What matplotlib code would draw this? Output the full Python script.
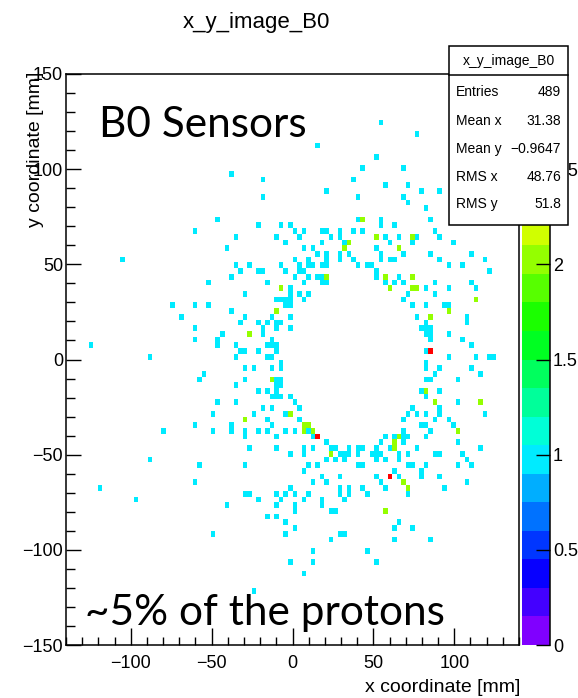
import numpy as np
import matplotlib
matplotlib.use("Agg")
import matplotlib.pyplot as plt
from matplotlib.colors import ListedColormap, BoundaryNorm, hsv_to_rgb
from matplotlib.patches import Rectangle
from matplotlib.ticker import MultipleLocator, FuncFormatter

# filled bins of the B0 hit map: bin centre x, y [mm] and bin content
cell_x = [
    55, 77, 15, 52, 43, 69, -38, -18, 38, 57, 71,
    21, 80, 91, -18, 41, 69, 71, 83,
    -46, 41, 43, 55, 85,
    -21, -7, -1, 55, 63,
    -60, 1, 7, 18, 21, 29, 38, 43, 88,
    -35, -10, 4, 24, 29, 52, 57, 66, 74, 77, 91,
    -4, 18, 32, 35, 60, 74, 99,
    -41, 7, 13, 32, 52, 66,
    15, 21, 29, 35, 55, 69, 85, 111,
    -105, 1, 10, 21, 29, 38, 55, 60, 63, 91, 119,
    -35, -27, -7, 4, 10, 13, 18, 21, 41, 46, 49, 97, 105,
    -32, -21, -18, -4, 4, 7, 52, 122,
    -38, 1, 10, 15, 18, 21, 52, 57, 66, 74,
    -52, -15, 7, 18, 21, 57, 63, 69, 88, 111,
    -7, -1, 60, 74, 77, 83, 97, 113,
    -29, -1, 4, 10, 71, 88,
    -10, -7, -4, -1, 7, 69, 113,
    -74, -60, -52, -4, -1, 74, 83, 94, 97,
    -38, -10, 97,
    -69, -29, -13, -1, 77, 85, 108,
    -32, -21, -15, -10, -7, 83, 108,
    -60, -18, -10, -1, 80, 83, 85,
    -43, -27, -18, 83, 85, 97,
    -60, -46, -13, 85, 105,
    -125, -46, -35, -15, -13, -10, 111,
    -32, -29, -21, -10, 83, 85,
    -88, -35, -15, -13, 97, 113, 122, 125,
    -7, 83,
    -29, -24, -13, -7, 83, 91, 111,
    -55, 88, 116,
    -57, -29, -13, -10, -7, 83, 85, 102,
    -35, -10, -7,
    -21, -15, -10, 80, 83, 91,
    -13, -10, -7, -1, 83,
    -46, -35, 1, 88, 102, 116,
    -18, -13, 4, 74, 91,
    -49, -24, -4, -1, 71, 77, 83, 91, 119,
    -29, -15, 4, 69, 88, 97,
    -60, -38, -13, 7, 10, 80, 83, 99,
    -80, -49, -38, -29, -21, -15, -4, 1, 7, 10, 13, 69, 85, 102,
    -29, -10, 13, 15, 57, 63, 66, 69, 71, 83,
    21, 55, 63, 69, 102,
    -27, -10, 7, 13, 24, 27, 35, 41, 43, 52, 60, 63, 77, 116,
    -1, 7, 24, 29, 32, 35, 41, 49, 52, 55, 66, 71, 88, 91, 105,
    -88, 21, 27, 32, 52, 57, 66, 108,
    -57, -29, 10, 15, 41, 43, 71, 74, 83, 102, 111,
    7, 63, 80,
    18, 29, 52, 60, 66, 80, 91,
    -60, 13, 21, 55, 69, 108,
    -119, -1, 29, 35, 43, 57, 71, 94,
    -29, -27, -10, -4, 1, 10, 29, 35, 46, 71,
    -97, -21, -7, 7, 18, 32,
    -41, -10, 1, 18,
    1, 24, 27, 57,
    -15, -10,
    -4, 66,
    1, 63, 74,
    -49, -4, 29, 32,
    24, 63, 85,
    13, 46,
    -1, 13, 52,
    7,
    -24,
]
cell_y = [
    125, 119, 113, 107, 101, 101, 98, 95, 95, 92, 92,
    89, 89, 89, 86, 86, 86, 83, 80,
    74, 74, 74, 74, 74,
    71, 71, 71, 71, 71,
    68, 68, 68, 68, 68, 68, 68, 68, 68,
    65, 65, 65, 65, 65, 65, 65, 65, 65, 65, 65,
    62, 62, 62, 62, 62, 62, 62,
    59, 59, 59, 59, 59, 59,
    56, 56, 56, 56, 56, 56, 56, 56,
    53, 53, 53, 53, 53, 53, 53, 53, 53, 53, 53,
    50, 50, 50, 50, 50, 50, 50, 50, 50, 50, 50, 50, 50,
    47, 47, 47, 47, 47, 47, 47, 47,
    44, 44, 44, 44, 44, 44, 44, 44, 44, 44,
    41, 41, 41, 41, 41, 41, 41, 41, 41, 41,
    38, 38, 38, 38, 38, 38, 38, 38,
    35, 35, 35, 35, 35, 35,
    32, 32, 32, 32, 32, 32, 32,
    29, 29, 29, 29, 29, 29, 29, 29, 29,
    26, 26, 26,
    23, 23, 23, 23, 23, 23, 23,
    20, 20, 20, 20, 20, 20, 20,
    17, 17, 17, 17, 17, 17, 17,
    14, 14, 14, 14, 14, 14,
    11, 11, 11, 11, 11,
    8, 8, 8, 8, 8, 8, 8,
    5, 5, 5, 5, 5, 5,
    2, 2, 2, 2, 2, 2, 2, 2,
    -1, -1,
    -4, -4, -4, -4, -4, -4, -4,
    -7, -7, -7,
    -10, -10, -10, -10, -10, -10, -10, -10,
    -13, -13, -13,
    -16, -16, -16, -16, -16, -16,
    -19, -19, -19, -19, -19,
    -22, -22, -22, -22, -22, -22,
    -25, -25, -25, -25, -25,
    -28, -28, -28, -28, -28, -28, -28, -28, -28,
    -31, -31, -31, -31, -31, -31,
    -34, -34, -34, -34, -34, -34, -34, -34,
    -37, -37, -37, -37, -37, -37, -37, -37, -37, -37, -37, -37, -37, -37,
    -40, -40, -40, -40, -40, -40, -40, -40, -40, -40,
    -43, -43, -43, -43, -43,
    -46, -46, -46, -46, -46, -46, -46, -46, -46, -46, -46, -46, -46, -46,
    -49, -49, -49, -49, -49, -49, -49, -49, -49, -49, -49, -49, -49, -49, -49,
    -52, -52, -52, -52, -52, -52, -52, -52,
    -55, -55, -55, -55, -55, -55, -55, -55, -55, -55, -55,
    -58, -58, -58,
    -61, -61, -61, -61, -61, -61, -61,
    -64, -64, -64, -64, -64, -64,
    -67, -67, -67, -67, -67, -67, -67, -67,
    -70, -70, -70, -70, -70, -70, -70, -70, -70, -70,
    -73, -73, -73, -73, -73, -73,
    -76, -76, -76, -76,
    -79, -79, -79, -79,
    -82, -82,
    -85, -85,
    -88, -88, -88,
    -91, -91, -91, -91,
    -94, -94, -94,
    -100, -100,
    -106, -106, -106,
    -112,
    -121,
]
cell_n = [
    1, 1, 1, 1, 1, 1, 1, 1, 1, 1, 1,
    1, 1, 1, 1, 1, 1, 1, 1,
    1, 1, 2, 1, 1,
    1, 1, 1, 1, 1,
    1, 1, 1, 1, 1, 1, 1, 1, 1,
    1, 1, 1, 1, 1, 2, 1, 1, 2, 1, 1,
    1, 1, 1, 2, 1, 1, 1,
    1, 1, 1, 2, 1, 2,
    1, 1, 1, 1, 1, 1, 1, 1,
    1, 1, 1, 1, 1, 1, 1, 1, 1, 1, 1,
    1, 1, 1, 1, 1, 1, 1, 1, 1, 1, 1, 1, 1,
    1, 1, 1, 1, 1, 1, 1, 1,
    1, 1, 1, 1, 1, 2, 1, 2, 1, 2,
    1, 1, 1, 1, 1, 1, 1, 1, 1, 1,
    2, 1, 2, 2, 2, 1, 1, 1,
    1, 1, 1, 1, 1, 1,
    1, 1, 1, 1, 1, 1, 2,
    1, 1, 1, 1, 1, 1, 1, 1, 1,
    1, 2, 2,
    1, 1, 1, 1, 1, 2, 1,
    1, 1, 1, 1, 1, 1, 1,
    1, 1, 1, 1, 1, 1, 1,
    1, 2, 1, 1, 1, 1,
    1, 1, 1, 1, 1,
    1, 1, 1, 1, 1, 1, 1,
    1, 1, 1, 1, 1, 3,
    1, 1, 1, 1, 1, 1, 1, 1,
    1, 1,
    1, 1, 1, 1, 1, 1, 1,
    1, 1, 1,
    1, 1, 2, 1, 1, 1, 1, 1,
    1, 1, 1,
    1, 1, 1, 1, 2, 1,
    1, 1, 1, 1, 1,
    1, 1, 1, 2, 1, 2,
    1, 1, 1, 1, 1,
    1, 1, 1, 2, 1, 1, 1, 1, 1,
    2, 1, 1, 1, 1, 1,
    1, 1, 1, 2, 2, 1, 1, 1,
    1, 1, 1, 1, 1, 1, 1, 1, 2, 1, 2, 1, 1, 2,
    1, 1, 1, 3, 1, 1, 2, 1, 1, 1,
    1, 1, 2, 1, 1,
    1, 1, 1, 1, 1, 1, 1, 1, 1, 1, 1, 2, 1, 1,
    1, 1, 2, 1, 1, 1, 1, 1, 1, 1, 1, 1, 1, 1, 1,
    1, 1, 1, 1, 1, 1, 1, 1,
    1, 1, 1, 1, 1, 1, 1, 1, 1, 1, 1,
    1, 1, 1,
    1, 1, 1, 3, 1, 1, 1,
    1, 1, 1, 1, 2, 1,
    1, 1, 1, 1, 1, 1, 2, 1,
    1, 1, 1, 1, 1, 1, 1, 1, 1, 1,
    1, 1, 1, 1, 1, 1,
    1, 1, 1, 1,
    1, 1, 1, 2,
    1, 1,
    1, 1,
    1, 1, 1,
    1, 1, 1, 1,
    1, 1, 1,
    1, 1,
    1, 1, 1,
    1,
    1,
]

stat_labels = ["Entries", "Mean x", "Mean y", "RMS x", "RMS y"]
stat_values = ["489", "31.38", "\u22120.9647", "48.76", "51.8"]

# 100 x 100 bins, like the TH2 booking
xedges = np.linspace(-140, 140, 101)
yedges = np.linspace(-150, 150, 101)
H, _, _ = np.histogram2d(cell_x, cell_y, bins=[xedges, yedges], weights=cell_n)
H = np.ma.masked_equal(H.T, 0)

# ROOT-style rainbow palette, 20 contour levels between 0 and 3
nlev = 20
hues = np.linspace(270, 0, nlev) / 360.0
pal = ListedColormap([hsv_to_rgb((h, 1, 1)) for h in hues])
levels = np.linspace(0, 3, nlev + 1)
norm = BoundaryNorm(levels, nlev)

W, Hpx = 578, 698
fig = plt.figure(figsize=(W / 100, Hpx / 100), dpi=100)
root_font = "Liberation Sans"
plt.rcParams["font.family"] = root_font

ax = fig.add_axes([66 / W, 1 - 645 / Hpx, (519 - 66) / W, (645 - 74) / Hpx])
cax = fig.add_axes([522 / W, 1 - 645 / Hpx, 28 / W, (645 - 74) / Hpx])

mesh = ax.pcolormesh(xedges, yedges, H, cmap=pal, norm=norm,
                     edgecolors="none", antialiased=False)
ax.set_xlim(-140, 140)
ax.set_ylim(-150, 150)

ax.xaxis.set_major_locator(MultipleLocator(50))
ax.xaxis.set_minor_locator(MultipleLocator(10))
ax.yaxis.set_major_locator(MultipleLocator(50))
ax.yaxis.set_minor_locator(MultipleLocator(10))
ax.tick_params(which="both", direction="in", labelsize=13, width=1.0)
ax.tick_params(axis="x", which="major", length=12, pad=7)
ax.tick_params(axis="x", which="minor", length=6)
ax.tick_params(axis="y", which="major", length=11, pad=2)
ax.tick_params(axis="y", which="minor", length=6.5)
for sp in ax.spines.values():
    sp.set_linewidth(1.1)

cb = fig.colorbar(mesh, cax=cax, ticks=[0, 0.5, 1, 1.5, 2, 2.5, 3])
cb.outline.set_visible(False)
cax.plot([1, 1], [0, 1], transform=cax.transAxes, color="black", lw=1.1,
         clip_on=False)
cax.tick_params(direction="in", length=10, width=1.0, labelsize=13, pad=2)
cax.yaxis.set_major_formatter(FuncFormatter(lambda v, p: f"{v:g}"))
cax.minorticks_off()

fig.text(256 / W, 1 - 28 / Hpx, "x_y_image_B0", ha="center", va="baseline",
         fontsize=16)
fig.text(520 / W, 1 - 692 / Hpx, "x coordinate [mm]", ha="right",
         va="baseline", fontsize=14)
fig.text(36 / W, 1 - 72 / Hpx, "y coordinate [mm]", ha="center", va="top",
         rotation=90, fontsize=14)

# statistics box
bx0, by0, bx1, by1 = 449, 46, 568, 225
fig.patches.append(Rectangle((bx0 / W, 1 - by1 / Hpx), (bx1 - bx0) / W,
                             (by1 - by0) / Hpx, transform=fig.transFigure,
                             facecolor="white", edgecolor="black", lw=1.1,
                             zorder=5))
fig.lines.append(plt.Line2D([bx0 / W, bx1 / W], [1 - 75 / Hpx, 1 - 75 / Hpx],
                            transform=fig.transFigure, color="black", lw=1.1,
                            zorder=6))
fig.text((bx0 + bx1) / 2 / W, 1 - 61 / Hpx, "x_y_image_B0", ha="center",
         va="center", fontsize=10, zorder=7)
row_y = [92, 121, 149, 177, 204]
for lab, val, yy in zip(stat_labels, stat_values, row_y):
    fig.text(456 / W, 1 - yy / Hpx, lab, ha="left", va="center",
             fontsize=10, zorder=7)
    fig.text(561 / W, 1 - yy / Hpx, val, ha="right", va="center",
             fontsize=10, zorder=7)

# annotations
fig.text(99 / W, 1 - 137 / Hpx, "B0 Sensors", ha="left", va="baseline",
         fontsize=30.5, family="Lato", zorder=8)
fig.text(85 / W, 1 - 625 / Hpx, "~5% of the protons", ha="left",
         va="baseline", fontsize=30.5, family="Lato", zorder=8)

fig.savefig("out.png", dpi=100)
